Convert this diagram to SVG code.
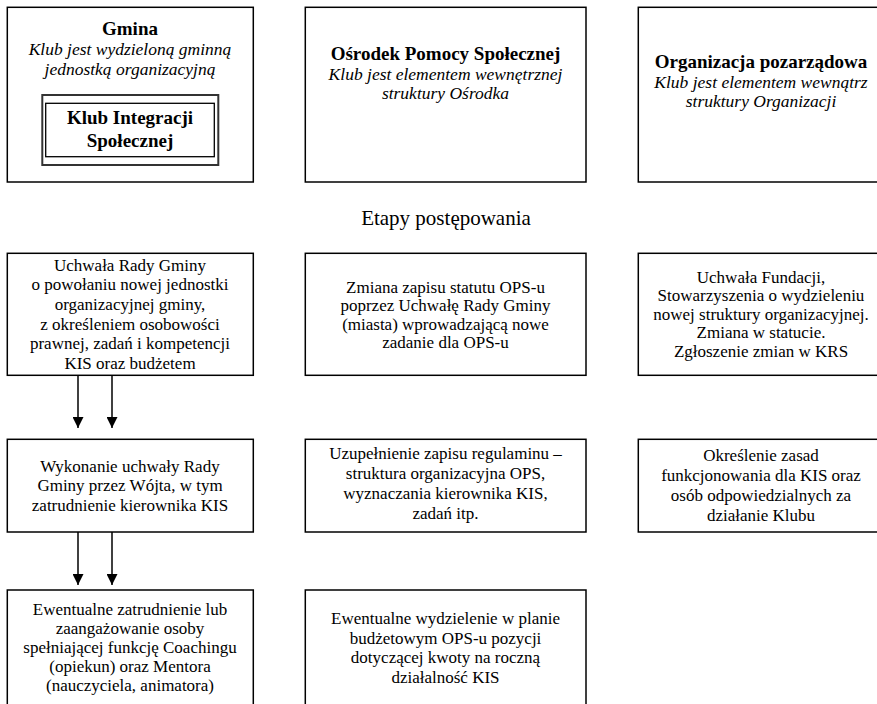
<svg xmlns="http://www.w3.org/2000/svg" width="877" height="704" viewBox="0 0 877 704">
<style>
.box{fill:#fff;stroke:#000;stroke-width:1.5}
text{font-family:"Liberation Serif","Times New Roman",Times,serif;fill:#000;text-anchor:middle}
.h{font-size:19px;font-weight:bold}
.i{font-size:17.5px;font-style:italic}
.t{font-size:17px}
.ttl{font-size:21px}
.conn{stroke:#000;stroke-width:1.5;fill:none}
</style>
<defs>
<marker id="ah" markerWidth="11" markerHeight="11" viewBox="0 0 11 11" refX="11" refY="5.5" orient="auto" markerUnits="userSpaceOnUse">
<path d="M0,0 L11,5.5 L0,11 Z" fill="#000"/>
</marker>
</defs>
<rect width="877" height="704" fill="#fff"/>

<g id="gmina">
<rect class="box" x="7.3" y="7.3" width="246" height="174.7"/>
<text class="h" x="130" y="35">Gmina</text>
<text class="i" x="130" y="54.5">Klub jest wydzieloną gminną</text>
<text class="i" x="130" y="74.5">jednostką organizacyjną</text>
<g id="kis">
<rect x="42.3" y="95" width="176" height="70" fill="#fff" stroke="#333" stroke-width="2"/>
<rect x="45.7" y="103.3" width="168.6" height="53.4" fill="none" stroke="#000" stroke-width="1.3"/>
<text class="h" x="130" y="123.5">Klub Integracji</text>
<text class="h" x="130" y="146.5">Społecznej</text>
</g>
</g>

<g id="ops">
<rect class="box" x="305.3" y="7.3" width="280.7" height="174.7"/>
<text class="h" x="445.5" y="60">Ośrodek Pomocy Społecznej</text>
<text class="i" x="445.5" y="80">Klub jest elementem wewnętrznej</text>
<text class="i" x="445.5" y="99.3">struktury Ośrodka</text>
</g>

<g id="org">
<rect class="box" x="638.3" y="7.3" width="240" height="174.7"/>
<text class="h" x="761" y="68.3">Organizacja pozarządowa</text>
<text class="i" x="761" y="88.3">Klub jest elementem wewnątrz</text>
<text class="i" x="761" y="107.3">struktury Organizacji</text>
</g>

<g id="etapy">
<text class="ttl" x="446" y="225">Etapy postępowania</text>
</g>

<g id="uchwala-rady">
<rect class="box" x="7.3" y="253.3" width="246" height="122"/>
<text class="t" x="130" y="270.5">Uchwała Rady Gminy</text>
<text class="t" x="130" y="290.2">o powołaniu nowej jednostki</text>
<text class="t" x="130" y="309.9">organizacyjnej gminy,</text>
<text class="t" x="130" y="329.6">z określeniem osobowości</text>
<text class="t" x="130" y="349.3">prawnej, zadań i kompetencji</text>
<text class="t" x="130" y="369">KIS oraz budżetem</text>
</g>

<g id="zmiana-statutu">
<rect class="box" x="305.3" y="253.3" width="280.7" height="122"/>
<text class="t" x="445.5" y="292.7">Zmiana zapisu statutu OPS-u</text>
<text class="t" x="445.5" y="311.2">poprzez Uchwałę Rady Gminy</text>
<text class="t" x="445.5" y="329.7">(miasta) wprowadzającą nowe</text>
<text class="t" x="445.5" y="348.2">zadanie dla OPS-u</text>
</g>

<g id="uchwala-fundacji">
<rect class="box" x="638.3" y="253.3" width="240" height="122"/>
<text class="t" x="761" y="282.5">Uchwała Fundacji,</text>
<text class="t" x="761" y="301.1">Stowarzyszenia o wydzieleniu</text>
<text class="t" x="761" y="319.7">nowej struktury organizacyjnej.</text>
<text class="t" x="761" y="338.3">Zmiana w statucie.</text>
<text class="t" x="761" y="356.9">Zgłoszenie zmian w KRS</text>
</g>

<g id="wykonanie">
<rect class="box" x="7.3" y="439.3" width="246" height="92.7"/>
<text class="t" x="130" y="471.5">Wykonanie uchwały Rady</text>
<text class="t" x="130" y="491">Gminy przez Wójta, w tym</text>
<text class="t" x="130" y="510.5">zatrudnienie kierownika KIS</text>
</g>

<g id="uzupelnienie">
<rect class="box" x="305.3" y="439.3" width="280.7" height="92.7"/>
<text class="t" x="445.5" y="459.3">Uzupełnienie zapisu regulaminu –</text>
<text class="t" x="445.5" y="479.3">struktura organizacyjna OPS,</text>
<text class="t" x="445.5" y="499.3">wyznaczania kierownika KIS,</text>
<text class="t" x="445.5" y="519.3">zadań itp.</text>
</g>

<g id="okreslenie">
<rect class="box" x="638.3" y="439.3" width="240" height="92.7"/>
<text class="t" x="761" y="460.7">Określenie zasad</text>
<text class="t" x="761" y="480.8">funkcjonowania dla KIS oraz</text>
<text class="t" x="761" y="500.9">osób odpowiedzialnych za</text>
<text class="t" x="761" y="521">działanie Klubu</text>
</g>

<g id="ewentualne-zatrudnienie">
<rect class="box" x="7.3" y="590" width="246" height="130"/>
<text class="t" x="130" y="615">Ewentualne zatrudnienie lub</text>
<text class="t" x="130" y="634">zaangażowanie osoby</text>
<text class="t" x="130" y="653">spełniającej funkcję Coachingu</text>
<text class="t" x="130" y="672">(opiekun) oraz Mentora</text>
<text class="t" x="130" y="691">(nauczyciela, animatora)</text>
</g>

<g id="ewentualne-wydzielenie">
<rect class="box" x="305.3" y="590" width="280.7" height="130"/>
<text class="t" x="445.5" y="624">Ewentualne wydzielenie w planie</text>
<text class="t" x="445.5" y="643.5">budżetowym OPS-u pozycji</text>
<text class="t" x="445.5" y="663">dotyczącej kwoty na roczną</text>
<text class="t" x="445.5" y="682.5">działalność KIS</text>
</g>

<g id="connectors">
<line class="conn" x1="78" y1="376" x2="78" y2="428" marker-end="url(#ah)"/>
<line class="conn" x1="112" y1="376" x2="112" y2="428" marker-end="url(#ah)"/>
<line class="conn" x1="78" y1="532" x2="78" y2="585" marker-end="url(#ah)"/>
<line class="conn" x1="112" y1="532" x2="112" y2="585" marker-end="url(#ah)"/>
</g>
</svg>
